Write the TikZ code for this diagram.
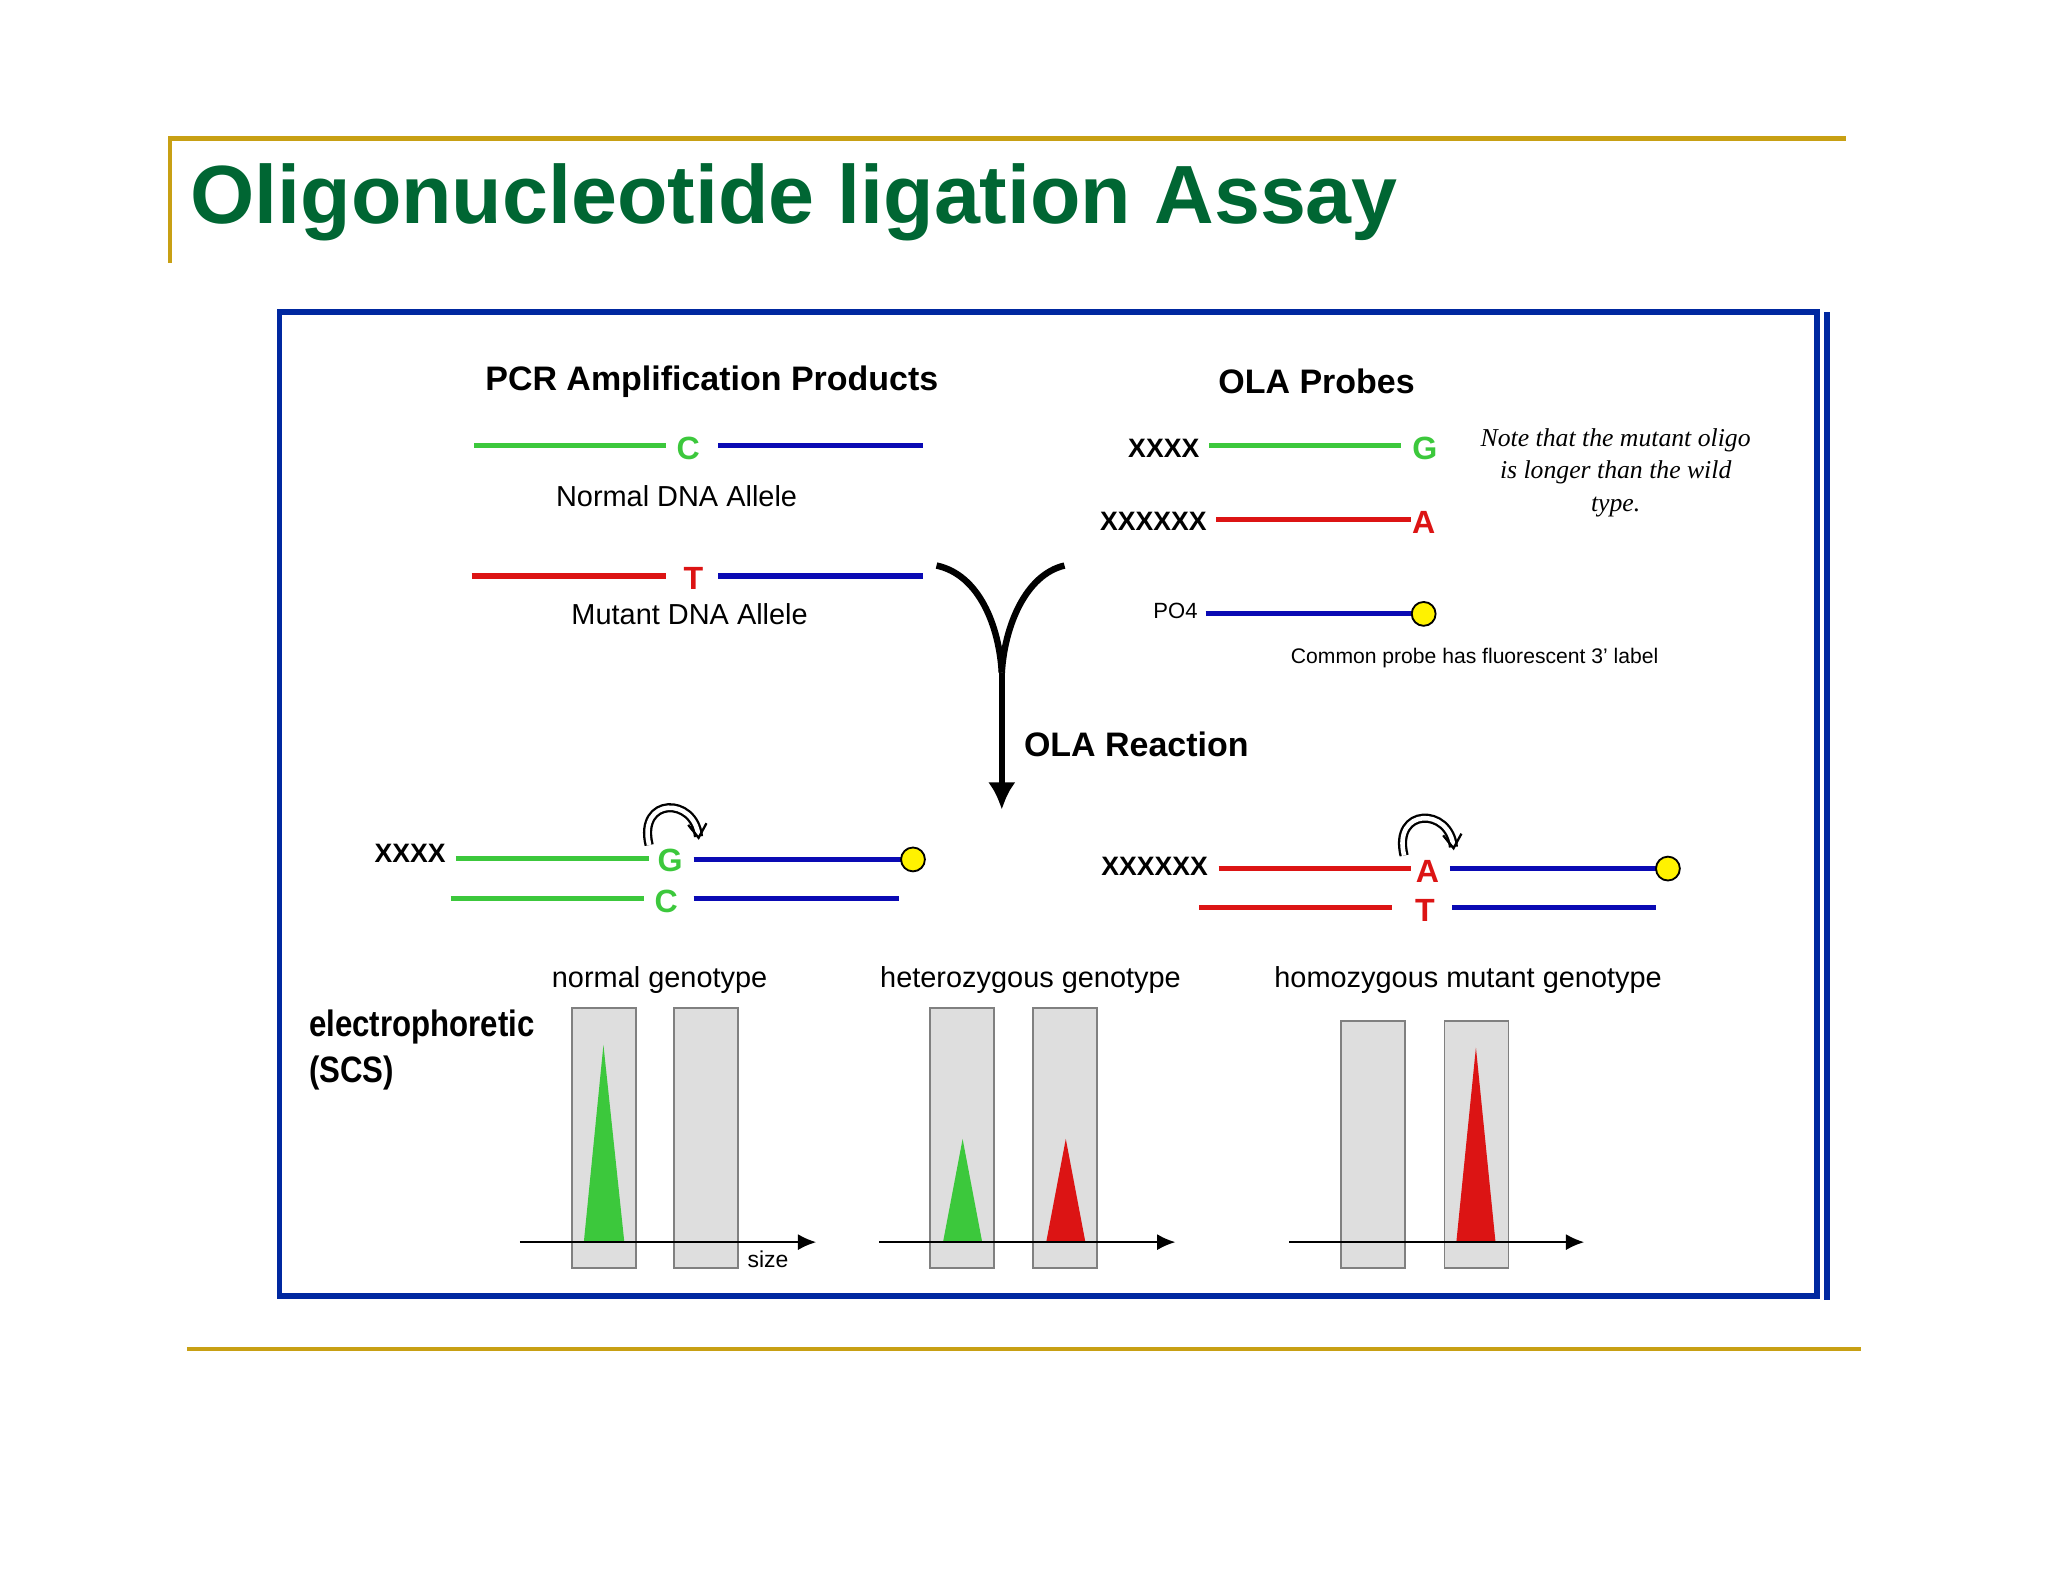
\documentclass[tikz,border=0pt]{standalone}
\usepackage{fontspec}
\setmainfont{Liberation Sans}
\newfontfamily\notefont{Liberation Serif}
\usetikzlibrary{arrows.meta}
\definecolor{gold}{RGB}{200,160,20}
\definecolor{tgreen}{RGB}{0,102,51}
\definecolor{bbox}{RGB}{0,40,160}
\definecolor{lg}{RGB}{60,200,60}
\definecolor{lr}{RGB}{220,20,20}
\definecolor{lb}{RGB}{10,10,180}
\definecolor{gel}{RGB}{222,222,222}
\begin{document}
\begin{tikzpicture}[x=0.1mm,y=-0.1mm,
  lbl/.style={font=\fontsize{7}{8}\selectfont\bfseries,inner sep=0},
  sm/.style={font=\fontsize{6.3}{7}\selectfont,inner sep=0},
  xs/.style={font=\fontsize{5.8}{7}\selectfont\bfseries,inner sep=0},
  gs/.style={lg,line width=1.1pt}, rs/.style={lr,line width=1.1pt}, bs/.style={lb,line width=1.1pt},
  dot/.style={circle,draw=black,fill=yellow,minimum size=5.2pt,inner sep=0,line width=0.4pt},
  gelr/.style={draw=gray,fill=gel,line width=0.4pt},
  ax/.style={line width=0.5pt,-{Latex[length=4pt,width=3.5pt]}},
  curl/.style={line width=0.5pt,-{Straight Barb[open,length=3pt,width=4pt]},double=white,double distance=1pt}]
\useasboundingbox (0,0) rectangle (1568,1211);
% frame
\draw[gold,line width=0.9pt] (130,201) -- (130,106) -- (1413,106);
\draw[gold,line width=0.9pt] (143,1033) -- (1425,1033);
\node[anchor=west,text=tgreen,font=\fontsize{18}{22}\selectfont\bfseries,inner sep=0] (title) at (145,155) {Oligonucleotide ligation Assay};
\draw[bbox,line width=1.3pt] (214,239) rectangle (1391,992);
\draw[bbox,line width=1.3pt] (1399,239) -- (1399,995);
% headings
\node[font=\fontsize{7.4}{8}\selectfont\bfseries,inner sep=0] (pcr) at (545,292) {PCR Amplification Products};
\node[font=\fontsize{7.4}{8}\selectfont\bfseries,inner sep=0] (ola) at (1008,292) {OLA Probes};
% normal allele
\draw[gs] (363,341) -- (510,341); \node[lbl,text=lg] (c1) at (527,343) {C}; \draw[bs] (550,341) -- (707,341);
\node[sm] (na) at (518,380) {Normal DNA Allele};
\draw[rs] (361,441) -- (510,441); \node[lbl,text=lr] (t1) at (531,443) {T}; \draw[bs] (550,441) -- (707,441);
\node[sm] (ma) at (528,470) {Mutant DNA Allele};
% probes
\node[xs] (x1) at (891,343) {XXXX}; \draw[gs] (926,341) -- (1073,341); \node[lbl,text=lg] (g1) at (1091,343) {G};
\node[xs] (x2) at (883,399) {XXXXXX}; \draw[rs] (931,398) -- (1080,398); \node[lbl,text=lr] (a1) at (1090,400) {A};
\node[font=\fontsize{4.8}{5}\selectfont,inner sep=0] (po) at (900,468) {PO4};
\draw[bs] (923,470) -- (1082,470); \node[dot] (d1) at (1090,470) {};
\node[font=\fontsize{4.6}{6}\selectfont,inner sep=0] (cp) at (1129,504) {Common probe has fluorescent 3' label};
\node[font=\notefont\itshape\fontsize{5.6}{7}\selectfont,align=center,inner sep=0] (note) at (1237,362) {Note that the mutant oligo\\is longer than the wild\\type.};
% Y arrow
\coordinate (yl) at (717,433); \coordinate (yr) at (815,433); \coordinate (ym) at (767,515); \coordinate (ye) at (767,620);
\draw[line width=1.4pt] (yl) .. controls (750,440) and (765,480) .. (ym);
\draw[line width=1.4pt] (yr) .. controls (785,440) and (769,480) .. (ym);
\draw[line width=1.4pt,-{Latex[length=6pt,width=6pt]}] (ym) -- (ye);
\node[font=\fontsize{7.4}{8}\selectfont\bfseries,inner sep=0] (olar) at (870,570) {OLA Reaction};
% ligated normal
\node[xs] (x3) at (314,653) {XXXX};
\draw[gs] (349,657) -- (497,657); \node[lbl,text=lg] (g2) at (513,659) {G}; \draw[bs] (531,658) -- (690,658); \node[dot] (d2) at (699,658) {};
\draw[gs] (345,688) -- (493,688); \node[lbl,text=lg] (c2) at (510,690) {C}; \draw[bs] (531,688) -- (688,688);
\draw[curl] (497,647) .. controls (488,610) and (532,610) .. (535,643);
% ligated mutant
\node[xs] (x4) at (884,663) {XXXXXX};
\draw[rs] (933,665) -- (1080,665); \node[lbl,text=lr] (a2) at (1093,667) {A}; \draw[bs] (1110,665) -- (1268,665); \node[dot] (d3) at (1277,665) {};
\draw[rs] (918,695) -- (1066,695); \node[lbl,text=lr] (t2) at (1091,697) {T}; \draw[bs] (1112,695) -- (1268,695);
\draw[curl] (1075,655) .. controls (1066,618) and (1110,618) .. (1113,651);
% genotypes
\node[sm] (n1) at (505,750) {normal genotype};
\node[sm] (n2) at (789,750) {heterozygous genotype};
\node[sm] (n3) at (1124,750) {homozygous mutant genotype};
\node[anchor=west,font=\fontsize{8}{10}\selectfont\bfseries,align=left,inner sep=0,xscale=0.85,transform shape] (el) at (236,804) {electrophoretic\\(SCS)};
% gels normal
\draw[gelr] (438,772) rectangle (487,971); \draw[gelr] (516,772) rectangle (565,971);
\fill[lg] (447,951) -- (462,800) -- (478,951) -- cycle;
\coordinate (a1s) at (398,951); \coordinate (a1e) at (625,951); \draw[ax] (a1s) -- (a1e);
\node[font=\fontsize{5}{6}\selectfont,inner sep=0] (size) at (588,964) {size};
% het
\draw[gelr] (712,772) rectangle (761,971); \draw[gelr] (791,772) rectangle (840,971);
\fill[lg] (722,951) -- (737,872) -- (752,951) -- cycle;
\fill[lr] (801,951) -- (816,872) -- (831,951) -- cycle;
\coordinate (a2s) at (673,951); \coordinate (a2e) at (900,951); \draw[ax] (a2s) -- (a2e);
% homo
\draw[gelr] (1027,782) rectangle (1076,971); \draw[gelr] (1106,782) rectangle (1155,971);
\fill[lr] (1115,951) -- (1130,802) -- (1145,951) -- cycle;
\coordinate (a3s) at (987,951); \coordinate (a3e) at (1213,951); \draw[ax] (a3s) -- (a3e);
\end{tikzpicture}
\end{document}
